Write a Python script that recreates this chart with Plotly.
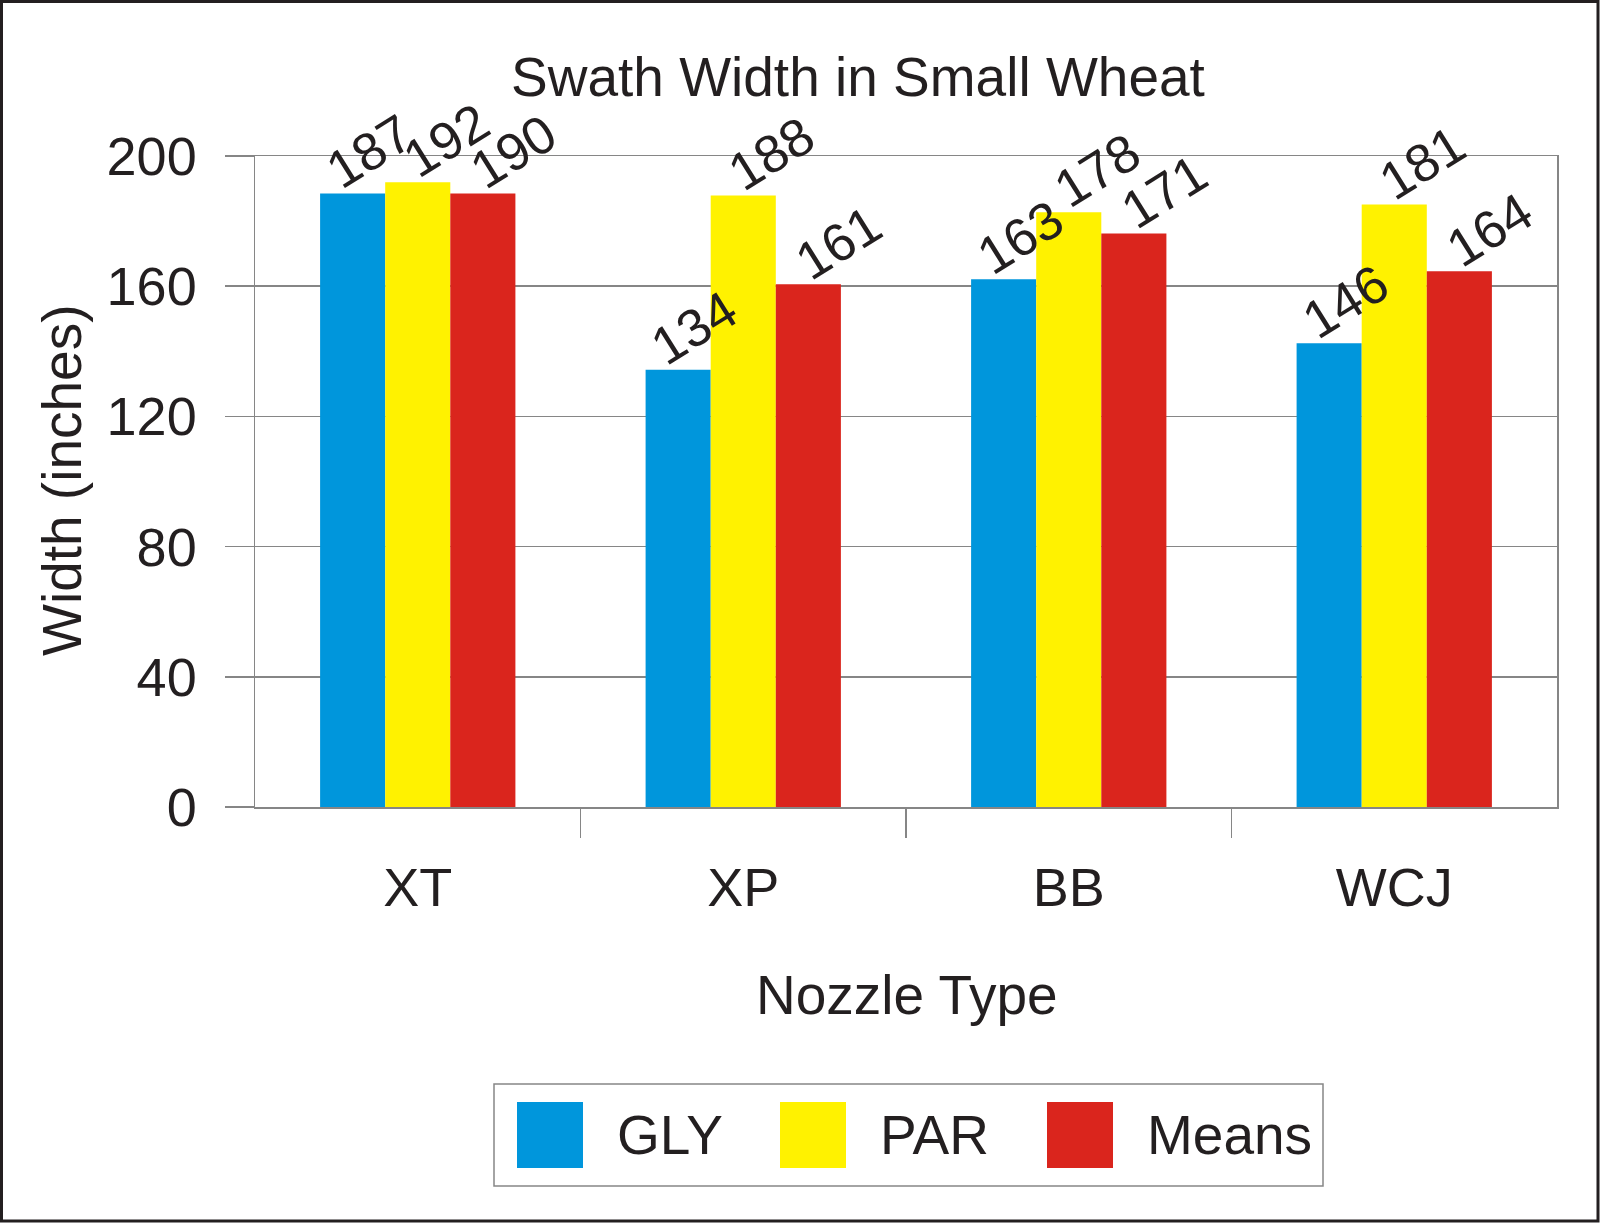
import plotly.graph_objects as go

# ---------------- data ----------------
categories = ["XT", "XP", "BB", "WCJ"]
series_names = ["GLY", "PAR", "Means"]
series_colors = ["#0096DC", "#FFF200", "#DA251D"]
gly_heights = [188.5, 134.3, 162.1, 142.5]
par_heights = [191.9, 187.9, 182.7, 185.1]
means_heights = [188.5, 160.6, 176.2, 164.6]
gly_labels = ["187", "134", "163", "146"]
par_labels = ["192", "188", "178", "181"]
means_labels = ["190", "161", "171", "164"]
y_ticks = [0, 40, 80, 120, 160, 200]

heights = [gly_heights, par_heights, means_heights]
labels = [gly_labels, par_labels, means_labels]

# ---------------- geometry ----------------
W, H = 1600, 1223
L, R, T, B = 255, 43, 156, 416
PW, PH = W - L - R, H - T - B
FONT = "Liberation Sans, Arial, sans-serif"
TXT = "#231F20"
GRID = "#868686"


def px(X):
    return (X - L) / PW


def py(Y):
    return (H - B - Y) / PH


BARGAP = 0.4
n_series = len(series_names)
bar_w = (1 - BARGAP) / n_series
xs = list(range(len(categories)))
label_xshift = [16, 28, 30]

fig = go.Figure()
for i, name in enumerate(series_names):
    fig.add_trace(go.Bar(
        x=xs, y=heights[i], name=name,
        marker=dict(color=series_colors[i], line=dict(width=0)),
        showlegend=False, hoverinfo="skip",
    ))

annotations = []
# value labels
for i in range(n_series):
    off = (i - (n_series - 1) / 2) * bar_w
    for j, xv in enumerate(xs):
        annotations.append(dict(
            x=xv + off, y=heights[i][j], xref="x", yref="y",
            text=labels[i][j], showarrow=False, textangle=-32,
            xanchor="center", yanchor="middle",
            xshift=label_xshift[i], yshift=42,
            font=dict(family=FONT, size=53, color=TXT),
        ))

# title and axis titles
annotations.append(dict(
    x=px(858), y=py(77), xref="paper", yref="paper",
    text="Swath Width in Small Wheat", showarrow=False,
    xanchor="center", yanchor="middle",
    font=dict(family=FONT, size=55, color=TXT),
))
annotations.append(dict(
    x=px(907), y=py(995), xref="paper", yref="paper",
    text="Nozzle Type", showarrow=False,
    xanchor="center", yanchor="middle",
    font=dict(family=FONT, size=55, color=TXT),
))
annotations.append(dict(
    x=px(62), y=py(481), xref="paper", yref="paper",
    text="Width (inches)", showarrow=False, textangle=-90,
    xanchor="center", yanchor="middle",
    font=dict(family=FONT, size=55, color=TXT),
))

shapes = []
# outer frame
shapes.append(dict(type="rect", xref="paper", yref="paper",
                   x0=px(1.5), x1=px(W - 2), y0=py(1.5), y1=py(H - 2),
                   line=dict(color=TXT, width=3), layer="above"))
# legend box
shapes.append(dict(type="rect", xref="paper", yref="paper",
                   x0=px(494), x1=px(1323), y0=py(1084), y1=py(1186),
                   line=dict(color=GRID, width=1.5), fillcolor="white", layer="above"))
sw_left = [517, 780, 1047]
txt_left = [615, 878, 1145]
for i, name in enumerate(series_names):
    shapes.append(dict(type="rect", xref="paper", yref="paper",
                       x0=px(sw_left[i]), x1=px(sw_left[i] + 66),
                       y0=py(1102), y1=py(1168),
                       line=dict(width=0), fillcolor=series_colors[i], layer="above"))
    annotations.append(dict(
        x=px(txt_left[i]), y=py(1135), xref="paper", yref="paper",
        text=name, showarrow=False, xanchor="left", yanchor="middle",
        font=dict(family=FONT, size=55, color=TXT),
    ))

fig.update_layout(
    width=W, height=H, autosize=False,
    margin=dict(l=L, r=R, t=T, b=B, pad=0),
    paper_bgcolor="white", plot_bgcolor="white",
    barmode="group", bargap=BARGAP, bargroupgap=0,
    showlegend=False,
    annotations=annotations, shapes=shapes,
    font=dict(family=FONT, color=TXT),
    xaxis=dict(
        range=[-0.5, len(categories) - 0.5],
        tickmode="array", tickvals=xs, ticktext=categories,
        ticks="outside", ticklen=33, tickcolor="rgba(0,0,0,0)",
        tickfont=dict(family=FONT, size=54, color=TXT),
        showgrid=False, zeroline=False,
        showline=True, linecolor=GRID, linewidth=1.5, mirror=True,
        minor=dict(tickmode="array", tickvals=[x + 0.5 for x in xs[:-1]],
                   ticks="outside", ticklen=29, tickcolor=GRID, tickwidth=1.5,
                   showgrid=False),
        fixedrange=True,
    ),
    yaxis=dict(
        range=[0, 200],
        tickmode="array", tickvals=y_ticks,
        ticks="outside", ticklen=29, tickcolor=GRID, tickwidth=1.5,
        ticklabelstandoff=17,
        tickfont=dict(family=FONT, size=54, color=TXT),
        showgrid=True, gridcolor=GRID, gridwidth=1.5,
        zeroline=False,
        showline=True, linecolor=GRID, linewidth=1.5, mirror=True,
        fixedrange=True,
    ),
)

fig.write_html(
    "out.html",
    config={"displayModeBar": False, "staticPlot": True},
    post_script="document.body.style.margin='0';document.body.style.overflow='hidden';",
)
